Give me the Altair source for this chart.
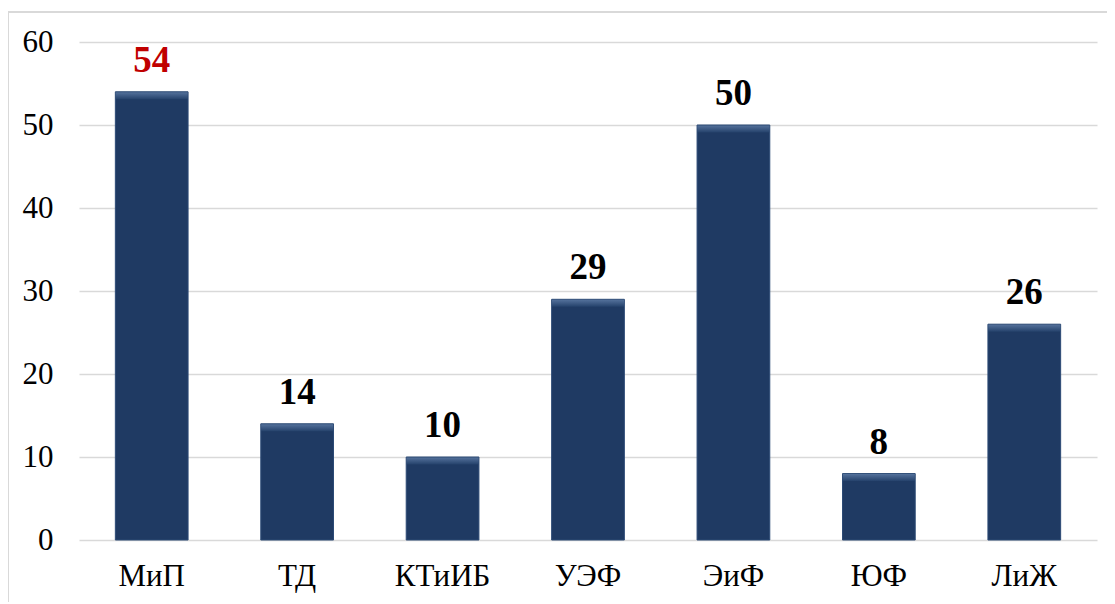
import altair as alt
import pandas as pd

categories = ["МиП", "ТД", "КТиИБ", "УЭФ", "ЭиФ", "ЮФ", "ЛиЖ"]
values = [54, 14, 10, 29, 50, 8, 26]
label_colors = ["#C00000", "#000000", "#000000", "#000000", "#000000", "#000000", "#000000"]
y_ticks = [0, 10, 20, 30, 40, 50, 60]

df = pd.DataFrame({"cat": categories, "val": values, "lc": label_colors})

FONT = "'Liberation Serif', 'Times New Roman', 'DejaVu Serif', serif"

x_enc = alt.X("cat:N", sort=categories,
              scale=alt.Scale(paddingInner=0.5, paddingOuter=0.25),
              axis=alt.Axis(title=None, labelAngle=0, labelFont=FONT, labelFontSize=31,
                            labelColor="#000000", labelPadding=21, ticks=False,
                            domain=False, grid=False))
y_enc = alt.Y("val:Q", scale=alt.Scale(domain=[0, 60], nice=False),
              axis=alt.Axis(title=None, values=y_ticks, labelFont=FONT, labelFontSize=31,
                            labelColor="#000000", labelPadding=26, ticks=False,
                            domain=False, gridColor="#d9d9d9", gridWidth=1.5))

frame = alt.Chart(df).mark_rect(fill="transparent", stroke="#d9d9d9", strokeWidth=1.5).encode(
    x=alt.value(-71), x2=alt.value(1060), y=alt.value(-30), y2=alt.value(620)
)

bars = alt.Chart(df).mark_bar(
    color="#1f3a63", stroke="#2c4a75", strokeWidth=1
).encode(x=x_enc, y=y_enc)

bevel = alt.Chart(df).mark_tick(
    thickness=7, size=72, yOffset=4,
    color={"gradient": "linear", "x1": 0, "y1": 0, "x2": 0, "y2": 1,
           "stops": [{"offset": 0, "color": "#6a88b2"}, {"offset": 1, "color": "#27456f"}]}
).encode(x=alt.X("cat:N", sort=categories), y=alt.Y("val:Q"))

labels = alt.Chart(df).mark_text(
    font=FONT, fontSize=37, fontWeight="bold", baseline="alphabetic", dy=-20
).encode(
    x=alt.X("cat:N", sort=categories), y=alt.Y("val:Q"),
    text=alt.Text("val:Q"), color=alt.Color("lc:N", scale=None)
)

chart = alt.layer(frame, bars, bevel, labels).properties(
    width=1018, height=498,
    autosize=alt.AutoSizeParams(type="none"),
    padding={"left": 71, "top": 34, "right": 10, "bottom": 62},
).configure_view(stroke=None)

chart.save("out.html", embed_options={"renderer": "svg", "actions": False})
